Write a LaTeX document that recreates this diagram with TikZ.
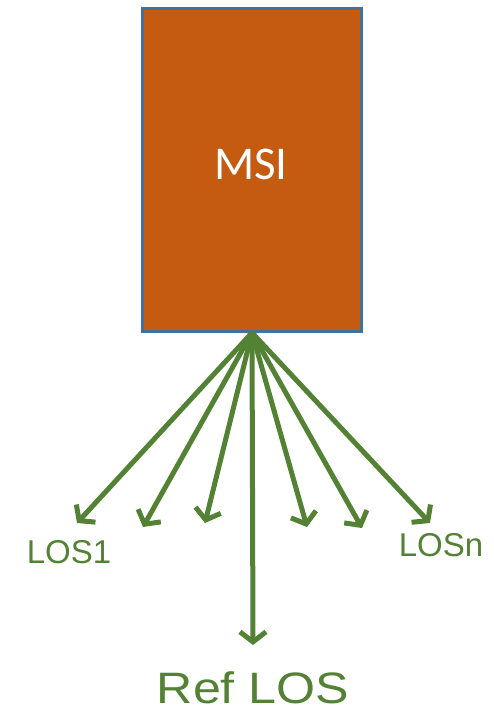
\documentclass[tikz,border=0pt]{standalone}
\usepackage{fontspec}
\setmainfont{Liberation Sans}
\newfontfamily\calibrifont{Carlito}
\usetikzlibrary{arrows.meta}
\definecolor{msiorange}{HTML}{C55A11}
\definecolor{msiblue}{HTML}{41719C}
\definecolor{losgreen}{HTML}{548235}
\tikzset{
	losarrow/.style={losgreen,line width=5pt,-{Straight Barb[length=10pt,width=26pt]}},
	loslabel/.style={losgreen,font=\fontsize{33}{38}\selectfont,inner sep=0pt,anchor=base}
}
\begin{document}
\begin{tikzpicture}[x=1pt,y=-1pt]
		\useasboundingbox (0,0) rectangle (494,715);
		\node[draw=msiblue,fill=msiorange,line width=2.5pt,minimum width=219pt,minimum height=323pt,inner sep=0pt] (msi) at (252,170) {};
		\node[white,font=\calibrifont\fontsize{47}{52}\selectfont,inner sep=0pt,anchor=base] (msitext) at (251,179) {MSI};
		% line of sight directions
		\coordinate (los1) at (77,523);
		\coordinate (los2) at (143,527);
		\coordinate (los3) at (205,523);
		\coordinate (los4) at (307,527);
		\coordinate (los5) at (362,528);
		\coordinate (losn) at (430,523);
		\coordinate (ref) at (253,645);
		\foreach \t in {los1,los2,los3,los4,los5,losn,ref}
			\draw[losarrow] (msi.south) -- (\t);
		\node[loslabel] (los1text) at (69,563) {LOS1};
		\node[loslabel] (losntext) at (441,556) {LOSn};
		\node[loslabel,font=\fontsize{44}{50}\selectfont,xscale=1.14] (reftext) at (253,703) {Ref LOS};
\end{tikzpicture}
\end{document}
